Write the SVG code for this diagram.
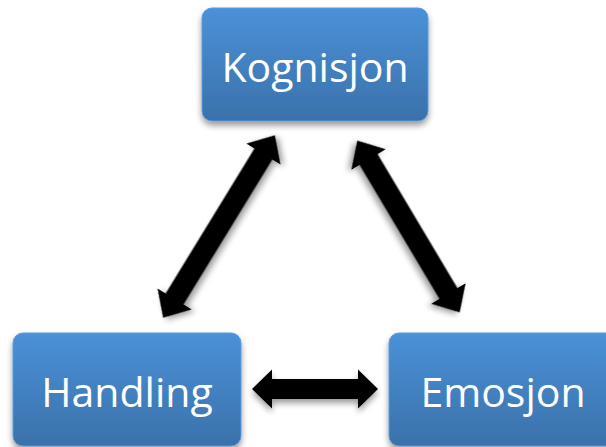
<svg xmlns="http://www.w3.org/2000/svg" width="606" height="447" viewBox="0 0 606 447">
  <defs>
    <linearGradient id="boxFill" x1="0" y1="0" x2="0" y2="1">
      <stop offset="0" stop-color="#4a91d8"/>
      <stop offset="1" stop-color="#3b71aa"/>
    </linearGradient>
    <filter id="shadow" x="-20%" y="-20%" width="140%" height="150%">
      <feGaussianBlur in="SourceAlpha" stdDeviation="3"/>
      <feOffset dx="0" dy="4" result="blur"/>
      <feComponentTransfer><feFuncA type="linear" slope="0.4"/></feComponentTransfer>
      <feMerge><feMergeNode/><feMergeNode in="SourceGraphic"/></feMerge>
    </filter>
  </defs>
  <style>
    .box { fill: url(#boxFill); stroke: #5a9be0; stroke-width: 1; filter: url(#shadow); }
    .label { font-family: "Open Sans", "Liberation Sans", sans-serif; font-size: 41px; fill: #ffffff; text-anchor: middle; }
    .arrow { fill: #000000; filter: url(#shadow); }
  </style>

  <rect width="606" height="447" fill="#ffffff"/>

  <g id="connectors">
    <!-- Handling <-> Kognisjon -->
    <path class="arrow" transform="translate(219 226.5) rotate(-58.5)"
          d="M -107,0 L -85,-20 L -85,-10.5 L 85,-10.5 L 85,-20 L 107,0 L 85,20 L 85,10.5 L -85,10.5 L -85,20 Z"/>
    <!-- Kognisjon <-> Emosjon -->
    <path class="arrow" transform="translate(408.5 226.5) rotate(59.2)"
          d="M -100,0 L -78,-20 L -78,-10.5 L 78,-10.5 L 78,-20 L 100,0 L 78,20 L 78,10.5 L -78,10.5 L -78,20 Z"/>
    <!-- Handling <-> Emosjon -->
    <path class="arrow" transform="translate(315 389)"
          d="M -63,0 L -43,-19.5 L -43,-10 L 43,-10 L 43,-19.5 L 63,0 L 43,19.5 L 43,10 L -43,10 L -43,19.5 Z"/>
  </g>

  <g id="kognisjon">
    <rect class="box" x="202" y="8" width="226" height="113" rx="10"/>
    <text class="label" x="315" y="82">Kognisjon</text>
  </g>

  <g id="handling">
    <rect class="box" x="13" y="333" width="228" height="113" rx="10"/>
    <text class="label" x="127" y="407">Handling</text>
  </g>

  <g id="emosjon">
    <rect class="box" x="389" y="333" width="228" height="113" rx="10"/>
    <text class="label" x="503" y="407">Emosjon</text>
  </g>
</svg>
